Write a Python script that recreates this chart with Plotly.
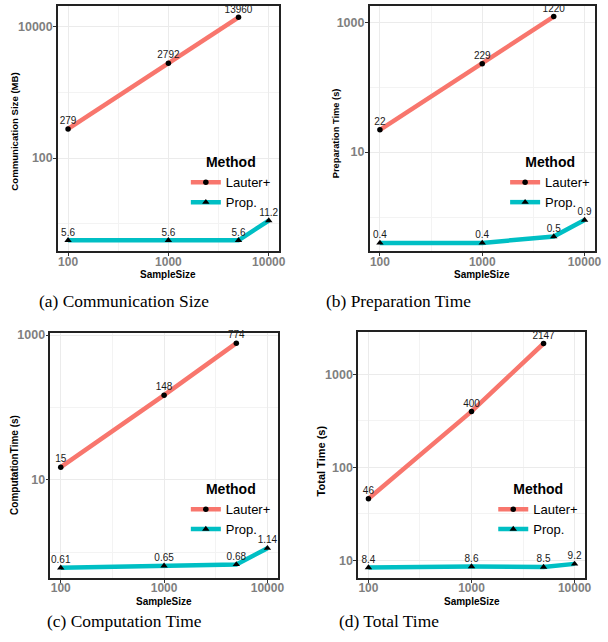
import plotly.graph_objects as go
from plotly.subplots import make_subplots

# ---------------- data ----------------
sample_sizes_lauter = [100, 1000, 5000]
sample_sizes_prop = [100, 1000, 5000, 10000]

comm_lauter = [279, 2792, 13960]
comm_prop = [5.6, 5.6, 5.6, 11.2]
prep_lauter = [22, 229, 1220]
prep_prop = [0.4, 0.4, 0.5, 0.9]
comp_lauter = [15, 148, 774]
comp_prop = [0.61, 0.65, 0.68, 1.14]
total_lauter = [46, 400, 2147]
total_prop = [8.4, 8.6, 8.5, 9.2]

method_names = ["Lauter+", "Prop."]
x_title = "SampleSize"
y_titles = ["Communication Size (MB)", "Preparation Time (s)", "ComputationTime (s)", "Total Time (s)"]
captions = ["(a) Communication Size", "(b) Preparation Time", "(c) Computation Time", "(d) Total Time"]
x_tickvals = [100, 1000, 10000]
x_minorvals = [316.23, 3162.3]
y_tickvals = [[100, 10000], [10, 1000], [10, 1000], [10, 100, 1000]]
y_minorvals = [[10, 1000], [1, 100], [1, 100], [31.623, 316.23]]

lauter_series = [comm_lauter, prep_lauter, comp_lauter, total_lauter]
prop_series = [comm_prop, prep_prop, comp_prop, total_prop]

# ---------------- layout config ----------------
W, H = 608, 642
# plot areas in pixels: left, right, top, bottom
boxes = [(58.7, 282, 2, 249), (374, 601.7, 2, 249), (51, 281, 331, 577.7), (362.3, 591.7, 330, 577.7)]
y_ranges = [[0.578, 4.318], [-0.53, 3.25], [-0.356, 3.03], [0.811, 3.456]]
x_range = [1.9, 4.1]
legend_px = [(188, 146), (511, 146), (188, 475), (499, 475)]
caption_px = [(125.7, 299), (403, 299), (126, 621), (393.3, 621)]
xtitle_py = [272, 272, 601.5, 601.5]
ytitle_px = [(14.3, 128.3), (340, 130), (14, 464), (325, 460)]
ytitle_size = [9.6, 9.3, 10, 11]

COL_L = "#F8766D"
COL_P = "#00BFC4"
SANS = "Liberation Sans, Arial, sans-serif"
SERIF = "Liberation Serif, Times New Roman, serif"

fig = make_subplots(rows=2, cols=2)


def fmt(v):
    return f"{v:g}"


for i in range(4):
    r, c = i // 2 + 1, i % 2 + 1
    leg = "legend" if i == 0 else f"legend{i + 1}"
    fig.add_trace(go.Scatter(
        x=sample_sizes_lauter, y=lauter_series[i], mode="lines+markers", name=method_names[0],
        line=dict(color=COL_L, width=4.5),
        marker=dict(symbol="circle", size=5.5, color="black"),
        legend=leg, showlegend=True), row=r, col=c)
    fig.add_trace(go.Scatter(
        x=sample_sizes_prop, y=prop_series[i], mode="lines+markers", name=method_names[1],
        line=dict(color=COL_P, width=4.5),
        marker=dict(symbol="triangle-up", size=6.5, color="black"),
        legend=leg, showlegend=True), row=r, col=c)
    for xs, ys in ((sample_sizes_lauter, lauter_series[i]), (sample_sizes_prop, prop_series[i])):
        fig.add_trace(go.Scatter(
            x=xs, y=ys, mode="markers+text", text=[fmt(v) for v in ys], textposition="top center",
            marker=dict(size=2, opacity=0),
            textfont=dict(family=SANS, size=10, color="#1a1a1a"),
            cliponaxis=False, showlegend=False, hoverinfo="skip"), row=r, col=c)

    left, right, top, bottom = boxes[i]
    xa = "xaxis" if i == 0 else f"xaxis{i + 1}"
    ya = "yaxis" if i == 0 else f"yaxis{i + 1}"
    common = dict(
        type="log", tickmode="array",
        ticks="outside", ticklen=3, tickwidth=1, tickcolor="#333333",
        showgrid=True, gridcolor="#ebebeb", gridwidth=1,
        showline=True, linecolor="#222222", linewidth=1.5, mirror=True, zeroline=False,
    )
    fig.layout[xa].update(
        range=x_range, domain=[left / W, right / W],
        tickvals=x_tickvals, ticktext=[fmt(v) for v in x_tickvals], ticklabelstandoff=-5,
        tickfont=dict(family=SANS, size=12, color="#7f7f7f", weight="bold"),
        minor=dict(tickmode="array", tickvals=x_minorvals, showgrid=True, gridcolor="#f3f3f3", gridwidth=1, ticks=""),
        **common,
    )
    fig.layout[ya].update(
        range=y_ranges[i], domain=[1 - bottom / H, 1 - top / H],
        tickvals=y_tickvals[i], ticktext=[fmt(v) for v in y_tickvals[i]], ticklabelstandoff=-2,
        tickfont=dict(family=SANS, size=12.5, color="#7f7f7f", weight="bold"),
        minor=dict(tickmode="array", tickvals=y_minorvals[i], showgrid=True, gridcolor="#f3f3f3", gridwidth=1, ticks=""),
        **common,
    )
    # axis titles (placed tight to tick labels as in the reference)
    fig.add_annotation(
        text=x_title, x=(left + right) / 2 / W, y=1 - xtitle_py[i] / H, xref="paper", yref="paper",
        xanchor="center", yanchor="middle", showarrow=False,
        font=dict(family=SANS, size=10, color="black", weight="bold"),
    )
    tx, ty = ytitle_px[i]
    fig.add_annotation(
        text=y_titles[i], x=tx / W, y=1 - ty / H, xref="paper", yref="paper", textangle=-90,
        xanchor="center", yanchor="middle", showarrow=False,
        font=dict(family=SANS, size=ytitle_size[i], color="black", weight="bold"),
    )
    lx, ly = legend_px[i]
    fig.layout[leg] = dict(
        x=lx / W, y=1 - ly / H, xanchor="left", yanchor="top", xref="paper", yref="paper",
        bgcolor="rgba(255,255,255,0)", borderwidth=0,
        title=dict(text="Method", side="top center",
                   font=dict(family=SANS, size=14, color="black", weight="bold")),
        font=dict(family=SANS, size=13, color="black"),
        itemwidth=30, tracegroupgap=0,
    )
    cx, cy = caption_px[i]
    fig.add_annotation(
        text=captions[i], x=cx / W, y=1 - cy / H, xref="paper", yref="paper",
        xanchor="center", yanchor="middle", showarrow=False,
        font=dict(family=SERIF, size=17.4, color="black"),
    )

fig.update_layout(
    width=W, height=H, margin=dict(l=0, r=0, t=0, b=0),
    paper_bgcolor="white", plot_bgcolor="white",
)

fig.write_html("out.html", config={"displayModeBar": False},
               post_script="document.body.style.margin='0px';")
